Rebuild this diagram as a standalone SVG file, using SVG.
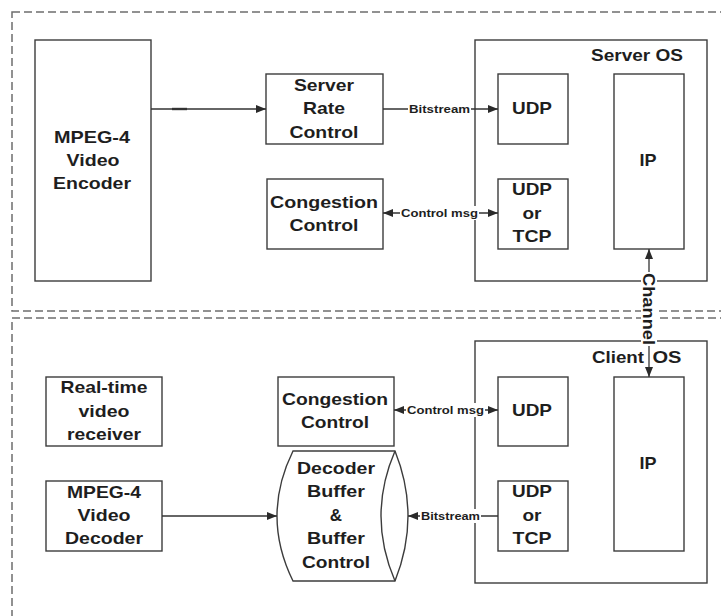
<svg xmlns="http://www.w3.org/2000/svg" width="721" height="616" viewBox="0 0 721 616">
  <defs>
    <marker id="arrow" markerUnits="userSpaceOnUse" markerWidth="11" markerHeight="8" refX="10" refY="4" orient="auto-start-reverse">
      <path d="M0,0 L10,4 L0,8 z" fill="#2a2a2a"/>
    </marker>
    <style>
      .zone { fill: none; stroke: #6e6e6e; stroke-width: 1.5; stroke-dasharray: 8 4; }
      .box { fill: #ffffff; stroke: #3c3c3c; stroke-width: 1.4; }
      .link { fill: none; stroke: #333333; stroke-width: 1.3; }
      .t { font-family: "Liberation Sans Narrow", "Liberation Sans", Arial, sans-serif; font-weight: bold; font-size: 17px; fill: #1e1e1e; text-anchor: middle; }
      .s { font-family: "Liberation Sans Narrow", "Liberation Sans", Arial, sans-serif; font-weight: bold; font-size: 11px; fill: #1e1e1e; }
      .bg { fill: #ffffff; stroke: none; }
    </style>
  </defs>

  <rect width="721" height="616" fill="#ffffff"/>

  <!-- server and client zones -->
  <g id="server-zone">
    <rect class="zone" x="12" y="12" width="730" height="299"/>
  </g>
  <g id="client-zone">
    <rect class="zone" x="12" y="318" width="730" height="320"/>
  </g>

  <!-- operating system frames -->
  <g id="server-os">
    <rect class="box" x="475" y="40" width="232" height="241"/>
    <text class="t" x="637" y="61" textLength="92" lengthAdjust="spacingAndGlyphs">Server OS</text>
  </g>
  <g id="client-os">
    <rect class="box" x="475" y="341" width="232" height="242"/>
  </g>

  <!-- server side nodes -->
  <g id="encoder">
    <rect class="box" x="35" y="40" width="116" height="241"/>
    <text class="t" x="92" y="143" textLength="76" lengthAdjust="spacingAndGlyphs">MPEG-4</text>
    <text class="t" x="93" y="166" textLength="53" lengthAdjust="spacingAndGlyphs">Video</text>
    <text class="t" x="92" y="189" textLength="78" lengthAdjust="spacingAndGlyphs">Encoder</text>
  </g>
  <g id="rate-control">
    <rect class="box" x="266" y="74" width="117" height="70"/>
    <text class="t" x="324" y="91" textLength="60" lengthAdjust="spacingAndGlyphs">Server</text>
    <text class="t" x="324" y="114" textLength="42" lengthAdjust="spacingAndGlyphs">Rate</text>
    <text class="t" x="324" y="138" textLength="69" lengthAdjust="spacingAndGlyphs">Control</text>
  </g>
  <g id="congestion-server">
    <rect class="box" x="267" y="179" width="116" height="70"/>
    <text class="t" x="324" y="208" textLength="108" lengthAdjust="spacingAndGlyphs">Congestion</text>
    <text class="t" x="324" y="231" textLength="69" lengthAdjust="spacingAndGlyphs">Control</text>
  </g>
  <g id="udp-server">
    <rect class="box" x="498" y="74" width="70" height="70"/>
    <text class="t" x="532" y="114" textLength="40" lengthAdjust="spacingAndGlyphs">UDP</text>
  </g>
  <g id="udptcp-server">
    <rect class="box" x="498" y="179" width="70" height="70"/>
    <text class="t" x="532" y="195" textLength="40" lengthAdjust="spacingAndGlyphs">UDP</text>
    <text class="t" x="532" y="219" textLength="19" lengthAdjust="spacingAndGlyphs">or</text>
    <text class="t" x="532" y="242" textLength="39" lengthAdjust="spacingAndGlyphs">TCP</text>
  </g>
  <g id="ip-server">
    <rect class="box" x="614" y="74" width="70" height="175"/>
    <text class="t" x="648" y="166" textLength="17" lengthAdjust="spacingAndGlyphs">IP</text>
  </g>

  <!-- client side nodes -->
  <g id="receiver">
    <rect class="box" x="46" y="377" width="116" height="69"/>
    <text class="t" x="104" y="393" textLength="87" lengthAdjust="spacingAndGlyphs">Real-time</text>
    <text class="t" x="104" y="417" textLength="51" lengthAdjust="spacingAndGlyphs">video</text>
    <text class="t" x="104" y="440" textLength="74" lengthAdjust="spacingAndGlyphs">receiver</text>
  </g>
  <g id="decoder">
    <rect class="box" x="46" y="481" width="116" height="70"/>
    <text class="t" x="104" y="498" textLength="74" lengthAdjust="spacingAndGlyphs">MPEG-4</text>
    <text class="t" x="104" y="521" textLength="53" lengthAdjust="spacingAndGlyphs">Video</text>
    <text class="t" x="104" y="544" textLength="78" lengthAdjust="spacingAndGlyphs">Decoder</text>
  </g>
  <g id="congestion-client">
    <rect class="box" x="278" y="377" width="116" height="69"/>
    <text class="t" x="335" y="405" textLength="106" lengthAdjust="spacingAndGlyphs">Congestion</text>
    <text class="t" x="335" y="428" textLength="68" lengthAdjust="spacingAndGlyphs">Control</text>
  </g>
  <g id="decoder-buffer">
    <path class="box" d="M293,451 L395,451 Q421,516 395,581 L293,581 Q261,516 293,451 Z"/>
    <path class="box" fill="none" d="M395,451 Q367,516 395,581"/>
    <text class="t" x="336" y="474" textLength="78" lengthAdjust="spacingAndGlyphs">Decoder</text>
    <text class="t" x="336" y="497" textLength="58" lengthAdjust="spacingAndGlyphs">Buffer</text>
    <text class="t" x="336" y="521">&amp;</text>
    <text class="t" x="336" y="544" textLength="58" lengthAdjust="spacingAndGlyphs">Buffer</text>
    <text class="t" x="336" y="568" textLength="68" lengthAdjust="spacingAndGlyphs">Control</text>
  </g>
  <g id="udp-client">
    <rect class="box" x="498" y="377" width="70" height="69"/>
    <text class="t" x="532" y="416" textLength="40" lengthAdjust="spacingAndGlyphs">UDP</text>
  </g>
  <g id="udptcp-client">
    <rect class="box" x="498" y="481" width="70" height="70"/>
    <text class="t" x="532" y="497" textLength="40" lengthAdjust="spacingAndGlyphs">UDP</text>
    <text class="t" x="532" y="521" textLength="19" lengthAdjust="spacingAndGlyphs">or</text>
    <text class="t" x="532" y="544" textLength="39" lengthAdjust="spacingAndGlyphs">TCP</text>
  </g>
  <g id="ip-client">
    <rect class="box" x="614" y="377" width="70" height="174"/>
    <text class="t" x="648" y="469" textLength="17" lengthAdjust="spacingAndGlyphs">IP</text>
  </g>

  <!-- connectors -->
  <g id="connectors">
    <line class="link" x1="151" y1="109" x2="266" y2="109" marker-end="url(#arrow)"/>
    <line x1="172" y1="109" x2="187" y2="109" stroke="#333333" stroke-width="2.4"/>

    <line class="link" x1="383" y1="109" x2="498" y2="109" marker-end="url(#arrow)"/>
    <rect class="bg" x="408" y="102" width="63" height="14"/>
    <text class="s" x="409" y="113" textLength="61" lengthAdjust="spacingAndGlyphs">Bitstream</text>

    <line class="link" x1="383" y1="213" x2="498" y2="213" marker-start="url(#arrow)" marker-end="url(#arrow)"/>
    <rect class="bg" x="400" y="206" width="79" height="14"/>
    <text class="s" x="401" y="217" textLength="77" lengthAdjust="spacingAndGlyphs">Control msg</text>

    <line class="link" x1="394" y1="410" x2="498" y2="410" marker-start="url(#arrow)" marker-end="url(#arrow)"/>
    <rect class="bg" x="406" y="403" width="79" height="14"/>
    <text class="s" x="407" y="414" textLength="77" lengthAdjust="spacingAndGlyphs">Control msg</text>

    <line class="link" x1="162" y1="516" x2="277" y2="516" marker-end="url(#arrow)"/>

    <line class="link" x1="498" y1="516" x2="408" y2="516" marker-end="url(#arrow)"/>
    <rect class="bg" x="420" y="509" width="61" height="14"/>
    <text class="s" x="421" y="520" textLength="59" lengthAdjust="spacingAndGlyphs">Bitstream</text>

    <!-- channel between the two IP layers -->
    <line class="link" x1="649" y1="249" x2="649" y2="377" marker-start="url(#arrow)" marker-end="url(#arrow)"/>
    <rect class="bg" x="641" y="272" width="16" height="74"/>
    <text class="t" transform="translate(643,309) rotate(90)" textLength="72" lengthAdjust="spacingAndGlyphs">Channel</text>
  </g>

  <g id="client-os-label">
    <text class="t" x="618" y="363" textLength="52" lengthAdjust="spacingAndGlyphs">Client</text>
    <text class="t" x="667" y="363" textLength="29" lengthAdjust="spacingAndGlyphs">OS</text>
  </g>
</svg>
